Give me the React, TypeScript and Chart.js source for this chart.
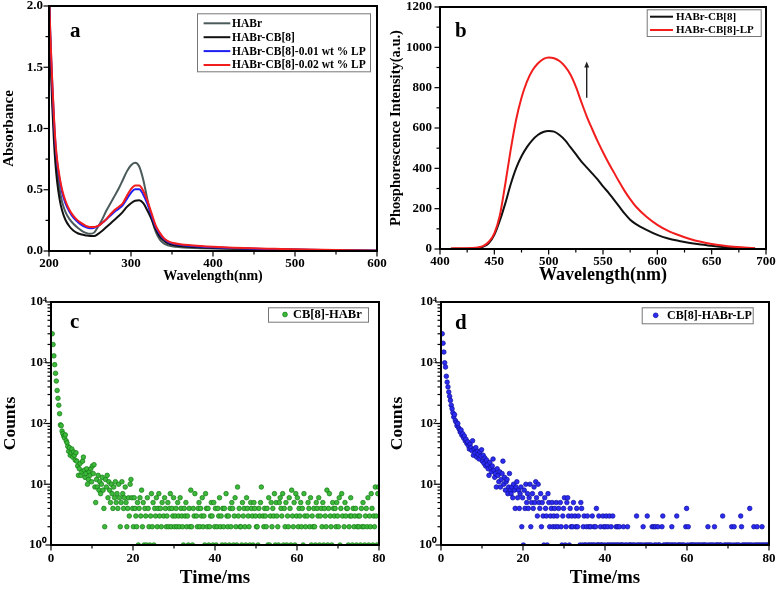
import React, { useEffect, useRef } from "react";
import { Chart, registerables } from "chart.js";

Chart.register(...registerables);

const SERIF = "'Liberation Serif', 'Times New Roman', Times, serif";

// ---------------- Panel a : absorbance ----------------
const absWavelengths = [200, 202, 204, 206, 208, 210, 213, 216, 220, 225, 230, 235, 240, 245, 250, 255, 260, 265, 270, 275, 280, 285, 290, 295, 300, 305, 310, 315, 320, 325, 330, 335, 340, 345, 350, 360, 370, 385, 400, 425, 450, 475, 500, 550, 600];
const absHABr = [2.1, 1.62, 1.28, 1.0, 0.79, 0.65, 0.5, 0.4, 0.32, 0.26, 0.22, 0.19, 0.165, 0.148, 0.14, 0.15, 0.2, 0.26, 0.33, 0.39, 0.45, 0.51, 0.58, 0.65, 0.7, 0.72, 0.69, 0.58, 0.42, 0.27, 0.16, 0.095, 0.062, 0.046, 0.038, 0.031, 0.027, 0.023, 0.02, 0.016, 0.013, 0.01, 0.008, 0.005, 0.002];
const absCB8 = [2.1, 1.55, 1.18, 0.9, 0.7, 0.56, 0.42, 0.33, 0.255, 0.2, 0.165, 0.145, 0.135, 0.127, 0.122, 0.122, 0.14, 0.165, 0.195, 0.225, 0.255, 0.285, 0.32, 0.36, 0.39, 0.41, 0.415, 0.39, 0.33, 0.26, 0.18, 0.12, 0.085, 0.062, 0.05, 0.04, 0.034, 0.029, 0.025, 0.02, 0.016, 0.013, 0.01, 0.005, 0.002];
const absLP001 = [2.1, 1.68, 1.36, 1.08, 0.86, 0.72, 0.58, 0.48, 0.39, 0.32, 0.27, 0.237, 0.212, 0.195, 0.186, 0.19, 0.205, 0.23, 0.26, 0.29, 0.32, 0.345, 0.375, 0.425, 0.475, 0.505, 0.505, 0.46, 0.385, 0.29, 0.2, 0.14, 0.1, 0.075, 0.062, 0.05, 0.043, 0.036, 0.03, 0.024, 0.019, 0.015, 0.012, 0.006, 0.002];
const absLP002 = [2.1, 1.7, 1.38, 1.1, 0.88, 0.74, 0.6, 0.5, 0.41, 0.335, 0.285, 0.25, 0.225, 0.205, 0.195, 0.195, 0.205, 0.23, 0.26, 0.3, 0.335, 0.36, 0.39, 0.45, 0.505, 0.535, 0.535, 0.49, 0.41, 0.31, 0.21, 0.15, 0.105, 0.08, 0.068, 0.056, 0.048, 0.04, 0.034, 0.027, 0.022, 0.018, 0.014, 0.008, 0.003];

// ---------------- Panel b : phosphorescence ----------------
const phosWavelengths = [410, 420, 430, 435, 440, 445, 450, 455, 460, 465, 470, 475, 480, 485, 490, 495, 500, 505, 510, 515, 520, 525, 530, 535, 540, 545, 550, 555, 560, 565, 570, 575, 580, 590, 600, 610, 620, 630, 640, 650, 660, 670, 680, 690];
const phosCB8 = [1, 1, 2, 4, 12, 30, 70, 140, 225, 320, 400, 460, 505, 540, 565, 580, 585, 582, 565, 540, 505, 470, 435, 405, 375, 345, 310, 280, 245, 210, 175, 145, 125, 95, 70, 52, 40, 30, 22, 16, 10, 6, 3, 1];
const phosCB8LP = [3, 4, 5, 8, 16, 36, 78, 165, 320, 490, 640, 750, 830, 885, 920, 942, 950, 946, 932, 905, 865, 805, 730, 658, 595, 535, 480, 428, 380, 332, 287, 247, 212, 160, 120, 90, 68, 50, 36, 25, 17, 11, 7, 4];
const arrowWavelength = 535;
const arrowFrom = 750;
const arrowTo = 930;

// ---------------- Panels c, d : decay (channel start / width in ms) ----------------
const decayStart = 0.3;
const decayChannel = 0.2;
const countsHABr = [
  3000, 2000, 1300, 930, 670, 500, 350, 260, 200, 145, 95, 92, 75, 68, 62, 58, 65, 52, 48, 42, 35, 40, 30, 33, 38,
  28, 34, 30, 25, 33, 24, 20, 14, 18, 22, 14, 16, 24, 28, 17, 13, 15, 18, 10, 12, 16, 14, 18, 11, 20,
  15, 21, 9, 5, 12, 9, 14, 8, 11, 7, 10, 13, 8, 4, 2, 12, 9, 14, 6, 11, 8, 5, 10, 7, 4,
  9, 6, 11, 5, 7, 4, 10, 6, 2, 5, 11, 7, 4, 6, 9, 5, 2, 4, 6, 3, 10, 12, 6, 4, 2,
  6, 4, 3, 2, 5, 1, 4, 6, 3, 8, 2, 5, 1, 4, 3, 1, 6, 4, 2, 1, 3, 7, 2, 5, 1,
  4, 3, 6, 2, 4, 7, 3, 4, 2, 5, 0, 3, 6, 4, 2, 3, 5, 2, 4, 7, 2, 4, 3, 6, 2,
  3, 4, 2, 5, 3, 2, 6, 4, 3, 2, 1, 4, 3, 5, 2, 3, 1, 4, 2, 8, 2, 1, 4, 3, 7,
  0, 3, 2, 4, 5, 2, 4, 3, 6, 2, 3, 1, 7, 4, 2, 4, 1, 2, 3, 5, 3, 1, 5, 2, 4,
  1, 2, 4, 3, 6, 2, 3, 1, 4, 2, 4, 1, 7, 3, 2, 3, 1, 4, 2, 5, 4, 1, 3, 6, 2,
  1, 9, 3, 4, 2, 2, 1, 5, 3, 4, 2, 1, 6, 4, 3, 2, 1, 5, 4, 3, 1, 5, 4, 3, 2,
  2, 1, 4, 3, 5, 9, 0, 3, 2, 4, 3, 2, 4, 1, 6, 1, 3, 5, 2, 4, 3, 7, 1, 5, 3,
  2, 1, 5, 6, 4, 3, 7, 1, 4, 2, 5, 1, 3, 2, 6, 4, 1, 8, 3, 2, 5, 1, 7, 3, 6,
  2, 4, 3, 5, 2, 4, 1, 7, 3, 2, 0, 3, 5, 4, 2, 6, 1, 3, 2, 4, 2, 1, 5, 4, 3,
  6, 1, 3, 4, 2, 5, 1, 4, 3, 2, 8, 1, 4, 7, 3, 2, 1, 5, 4, 3, 4, 2, 5, 3, 2,
  6, 1, 4, 7, 3, 0, 2, 5, 3, 4, 4, 1, 2, 3, 6, 3, 1, 4, 2, 3, 4, 1, 2, 3, 2,
  3, 1, 4, 2, 5, 2, 1, 3, 4, 2, 6, 1, 3, 2, 7, 4, 1, 3, 2, 9, 3, 1, 7, 9,
];
const countsHABrLP = [
  3000, 2100, 1500, 1000, 850, 600, 480, 400, 330, 280, 240, 200, 175, 150, 128, 140, 112, 105, 92, 100, 85, 80, 72, 78, 64,
  68, 58, 62, 52, 55, 47, 50, 43, 38, 46, 40, 36, 52, 30, 38, 33, 40, 28, 35, 31, 26, 34, 29, 37, 24,
  30, 22, 27, 20, 25, 21, 18, 14, 23, 19, 16, 20, 26, 17, 13, 15, 9, 18, 14, 11, 16, 9, 12, 15, 24,
  10, 13, 8, 11, 12, 7, 9, 15, 8, 7, 9, 6, 10, 8, 4, 9, 11, 6, 8, 4, 7, 9, 2, 6, 1,
  8, 4, 10, 5, 7, 4, 6, 10, 2, 5, 7, 4, 9, 5, 11, 6, 3, 10, 5, 4, 7, 2, 5, 3, 1,
  6, 4, 3, 1, 7, 5, 2, 3, 4, 5, 2, 3, 4, 2, 5, 3, 2, 4, 0, 5, 2, 1, 3, 4, 6,
  1, 2, 5, 6, 3, 1, 4, 2, 3, 2, 5, 0, 3, 2, 4, 2, 3, 0, 1, 5, 4, 1, 2, 3, 1,
  1, 2, 3, 1, 2, 1, 2, 1, 3, 1, 2, 1, 2, 4, 1, 1, 3, 1, 2, 1, 1, 3, 2, 1, 2,
  3, 1, 2, 1, 3, 1, 2, 1, 3, 1, 0, 1, 2, 1, 2, 1, 2, 1, 0, 1, 1, 2, 0, 1, 0,
  1, 2, 0, 1, 1, 0, 1, 0, 1, 0, 1, 0, 3, 1, 0, 1, 0, 1, 0, 1, 2, 0, 1, 0, 1,
  3, 1, 0, 1, 0, 1, 2, 0, 2, 1, 2, 1, 0, 2, 1, 1, 0, 0, 2, 3, 1, 0, 1, 0, 1,
  1, 0, 1, 0, 1, 2, 1, 0, 1, 0, 1, 3, 0, 1, 1, 0, 1, 0, 1, 0, 1, 0, 2, 4, 1,
  2, 0, 1, 0, 1, 1, 0, 1, 0, 1, 0, 1, 0, 1, 0, 1, 0, 1, 0, 1, 1, 0, 1, 0, 2,
  1, 0, 1, 0, 1, 0, 1, 2, 0, 1, 1, 0, 1, 0, 1, 1, 0, 3, 0, 1, 0, 1, 0, 1, 0,
  1, 0, 1, 2, 0, 1, 2, 0, 1, 0, 1, 0, 1, 0, 3, 2, 1, 0, 1, 0, 1, 0, 1, 0, 1,
  4, 1, 0, 1, 0, 2, 1, 0, 1, 2, 1, 0, 1, 0, 1, 2, 1, 0, 1, 0, 1, 0, 1, 1,
];
const logDecades = [1, 10, 100, 1000, 10000];
const SUP = ["\u2070", "\u00B9", "\u00B2", "\u00B3", "\u2074"];

// ---------------- plugins ----------------
const framePlugin = {
  id: "frame",
  afterDraw(chart: any, _a: any, o: any) {
    const { ctx, chartArea: a, scales } = chart;
    const xs = scales.x, ys = scales.y;
    ctx.save();
    ctx.strokeStyle = "#000";
    ctx.lineWidth = 1.2;
    const major = 5.5, minor = 3.5;
    const xTick = (v: number, len: number) => {
      const p = xs.getPixelForValue(v);
      ctx.beginPath(); ctx.moveTo(p, a.bottom); ctx.lineTo(p, a.bottom + len); ctx.stroke();
    };
    const yTick = (v: number, len: number) => {
      const p = ys.getPixelForValue(v);
      ctx.beginPath(); ctx.moveTo(a.left, p); ctx.lineTo(a.left - len, p); ctx.stroke();
    };
    const xMaj = xs.ticks.map((t: any) => t.value);
    for (let v = xs.min; v <= xs.max + 1e-9; v += o.xMinor) {
      xTick(v, xMaj.some((m: number) => Math.abs(m - v) < 1e-6) ? major : minor);
    }
    if (o.yLog) {
      for (let d = ys.min; d < ys.max; d *= 10) {
        yTick(d, major);
        for (let m = 2; m <= 9; m++) yTick(d * m, minor);
      }
      yTick(ys.max, major);
    } else {
      const yMaj = ys.ticks.map((t: any) => t.value);
      for (let v = ys.min; v <= ys.max + 1e-9; v += o.yMinor) {
        yTick(v, yMaj.some((m: number) => Math.abs(m - v) < 1e-6) ? major : minor);
      }
    }
    ctx.lineWidth = 2;
    ctx.strokeRect(a.left, a.top, a.right - a.left, a.bottom - a.top);
    ctx.restore();
  },
};

const boxLegendPlugin = {
  id: "boxLegend",
  afterDraw(chart: any, _a: any, o: any) {
    const { ctx, chartArea: a } = chart;
    const x0 = a.right - o.right - o.width;
    const y0 = a.top + o.top;
    ctx.save();
    ctx.fillStyle = "#fff";
    ctx.fillRect(x0, y0, o.width, o.height);
    ctx.strokeStyle = "#777";
    ctx.lineWidth = 1;
    ctx.strokeRect(x0 + 0.5, y0 + 0.5, o.width, o.height);
    ctx.font = `bold ${o.fontSize}px ${SERIF}`;
    ctx.textBaseline = "middle";
    ctx.textAlign = "left";
    chart.data.datasets.forEach((ds: any, i: number) => {
      const cy = y0 + o.firstRow + i * o.rowHeight;
      if (o.kind === "line") {
        ctx.strokeStyle = ds.borderColor;
        ctx.lineWidth = 2;
        ctx.beginPath(); ctx.moveTo(x0 + o.markX, cy); ctx.lineTo(x0 + o.markX + o.lineLen, cy); ctx.stroke();
      } else {
        ctx.beginPath(); ctx.arc(x0 + o.markX, cy, 2.4, 0, Math.PI * 2);
        ctx.fillStyle = ds.backgroundColor; ctx.fill();
        ctx.strokeStyle = ds.borderColor; ctx.lineWidth = 0.7; ctx.stroke();
      }
      ctx.fillStyle = "#000";
      ctx.fillText(ds.label, x0 + o.textX, cy + 0.5);
    });
    ctx.restore();
  },
};

const letterPlugin = {
  id: "panelLetter",
  afterDraw(chart: any, _a: any, o: any) {
    const { ctx, chartArea: a } = chart;
    ctx.save();
    ctx.font = `bold 21px ${SERIF}`;
    ctx.fillStyle = "#000";
    ctx.textAlign = "left";
    ctx.textBaseline = "alphabetic";
    ctx.fillText(o.text, a.left + o.dx, a.top + o.dy);
    ctx.restore();
  },
};

const arrowPlugin = {
  id: "upArrow",
  afterDatasetsDraw(chart: any, _a: any, o: any) {
    if (!o || !o.show) return;
    const { ctx, scales } = chart;
    const x = scales.x.getPixelForValue(arrowWavelength);
    const yb = scales.y.getPixelForValue(arrowFrom);
    const yt = scales.y.getPixelForValue(arrowTo);
    ctx.save();
    ctx.strokeStyle = "#222";
    ctx.fillStyle = "#222";
    ctx.lineWidth = 1.4;
    ctx.beginPath(); ctx.moveTo(x, yb); ctx.lineTo(x, yt + 4); ctx.stroke();
    ctx.beginPath(); ctx.moveTo(x, yt); ctx.lineTo(x - 2.5, yt + 6); ctx.lineTo(x + 2.5, yt + 6); ctx.closePath(); ctx.fill();
    ctx.restore();
  },
};

// ---------------- helpers ----------------
const tickFont = { family: SERIF, size: 13, weight: "bold" as const };

function xAxis(min: number, max: number, step: number, title: string, titleSize: number, titlePad: number, boxH: number, labelPad: number) {
  return {
    type: "linear",
    min, max,
    ticks: { stepSize: step, font: tickFont, color: "#000", padding: labelPad, maxRotation: 0, autoSkip: false, callback: (v: any) => String(v) },
    grid: { display: false, drawTicks: false },
    border: { display: false },
    title: { display: true, text: title, color: "#000", font: { family: SERIF, size: titleSize, weight: "bold" }, padding: { top: 0, bottom: titlePad } },
    afterFit: (s: any) => { s.height = boxH; s.paddingLeft = 0; s.paddingRight = 0; s.paddingTop = 0; s.paddingBottom = 0; },
  };
}

function yAxis(min: number, max: number, step: number, title: string, titleSize: number, boxW: number, labelPad: number, fmt: (v: number) => string) {
  return {
    type: "linear",
    min, max,
    ticks: { stepSize: step, font: tickFont, color: "#000", padding: labelPad, autoSkip: false, callback: (v: any) => fmt(Number(v)) },
    grid: { display: false, drawTicks: false },
    border: { display: false },
    title: { display: true, text: title, color: "#000", font: { family: SERIF, size: titleSize, weight: "bold" }, padding: { top: 0, bottom: 0 } },
    afterFit: (s: any) => { s.width = boxW; s.paddingLeft = 0; s.paddingRight = 0; s.paddingTop = 0; s.paddingBottom = 0; },
  };
}

function logYAxis(title: string, titleSize: number, boxW: number, labelPad: number) {
  return {
    type: "logarithmic",
    min: logDecades[0],
    max: logDecades[logDecades.length - 1],
    afterBuildTicks: (s: any) => { s.ticks = logDecades.map((v) => ({ value: v })); },
    ticks: { font: tickFont, color: "#000", padding: labelPad, autoSkip: false, callback: (v: any) => "10" + SUP[Math.round(Math.log10(Number(v)))] },
    grid: { display: false, drawTicks: false },
    border: { display: false },
    title: { display: true, text: title, color: "#000", font: { family: SERIF, size: titleSize, weight: "bold" }, padding: { top: 0, bottom: 0 } },
    afterFit: (s: any) => { s.width = boxW; s.paddingLeft = 0; s.paddingRight = 0; s.paddingTop = 0; s.paddingBottom = 0; },
  };
}

const lineSet = (label: string, xs: number[], ys: number[], color: string, order: number) => ({
  label,
  data: xs.map((x, i) => ({ x, y: ys[i] })),
  borderColor: color,
  backgroundColor: color,
  borderWidth: 2,
  pointRadius: 0,
  pointHoverRadius: 0,
  cubicInterpolationMode: "monotone",
  fill: false,
  order,
});

const dotSet = (label: string, counts: number[], fill: string, edge: string) => ({
  label,
  data: counts.map((c, i) => ({ x: decayStart + i * decayChannel, y: c > 0 ? c : null })),
  showLine: false,
  pointRadius: 2.3,
  pointHoverRadius: 2.3,
  pointBorderWidth: 0.7,
  backgroundColor: fill,
  borderColor: edge,
});

const basePlugins = (extra: any) => ({
  legend: { display: false },
  tooltip: { enabled: false },
  ...extra,
});

// ---------------- chart configs ----------------
function configA() {
  return {
    type: "line",
    data: {
      datasets: [
        lineSet("HABr", absWavelengths, absHABr, "#4b5a5a", 4),
        lineSet("HABr-CB[8]", absWavelengths, absCB8, "#111111", 3),
        lineSet("HABr-CB[8]-0.01 wt % LP", absWavelengths, absLP001, "#1f1ff5", 2),
        lineSet("HABr-CB[8]-0.02 wt % LP", absWavelengths, absLP002, "#f21d1d", 1),
      ],
    },
    options: {
      responsive: false, animation: false, devicePixelRatio: 1,
      layout: { padding: { top: 6, right: 13, left: 0, bottom: 0 } },
      scales: {
        x: xAxis(200, 600, 100, "Wavelength(nm)", 14, 5, 39, 4.5),
        y: yAxis(0, 2, 0.5, "Absorbance", 15, 49, 6, (v) => v.toFixed(1)),
      },
      plugins: basePlugins({
        frame: { xMinor: 50, yMinor: 0.25 },
        boxLegend: { kind: "line", right: 7, top: 7.3, width: 173, height: 58, firstRow: 10, rowHeight: 13.9, markX: 6.6, lineLen: 26.7, textX: 35, fontSize: 11.5 },
        panelLetter: { text: "a", dx: 21, dy: 30.7 },
        upArrow: { show: false },
      }),
    },
    plugins: [framePlugin, boxLegendPlugin, letterPlugin, arrowPlugin],
  };
}

function configB() {
  return {
    type: "line",
    data: {
      datasets: [
        lineSet("HABr-CB[8]", phosWavelengths, phosCB8, "#111111", 2),
        lineSet("HABr-CB[8]-LP", phosWavelengths, phosCB8LP, "#f21d1d", 1),
      ],
    },
    options: {
      responsive: false, animation: false, devicePixelRatio: 1,
      layout: { padding: { top: 7, right: 12, left: 0, bottom: 0 } },
      scales: {
        x: xAxis(400, 700, 50, "Wavelength(nm)", 18, 4, 41, 5),
        y: yAxis(0, 1200, 200, "Phosphorescence Intensity(a.u.)", 14.5, 52, 8, (v) => String(v)),
      },
      plugins: basePlugins({
        frame: { xMinor: 25, yMinor: 100 },
        boxLegend: { kind: "line", right: 5.3, top: 2.3, width: 114, height: 26.7, firstRow: 7.4, rowHeight: 13.3, markX: 3.3, lineLen: 23, textX: 29.3, fontSize: 11 },
        panelLetter: { text: "b", dx: 15, dy: 29.7 },
        upArrow: { show: true },
      }),
    },
    plugins: [framePlugin, boxLegendPlugin, letterPlugin, arrowPlugin],
  };
}

function configDecay(label: string, counts: number[], fill: string, edge: string, letter: string, yW: number, rightPad: number, legend: any, letterDx: number, letterDy: number) {
  return {
    type: "scatter",
    data: { datasets: [dotSet(label, counts, fill, edge)] },
    options: {
      responsive: false, animation: false, devicePixelRatio: 1,
      layout: { padding: { top: 12, right: rightPad, left: 0, bottom: 0 } },
      scales: {
        x: xAxis(0, 80, 20, "Time/ms", 19, 0, 44, 5.5),
        y: logYAxis("Counts", 17.5, yW, 4),
      },
      plugins: basePlugins({
        frame: { xMinor: 10, yLog: true },
        boxLegend: legend,
        panelLetter: { text: letter, dx: letterDx, dy: letterDy },
        upArrow: { show: false },
      }),
    },
    plugins: [framePlugin, boxLegendPlugin, letterPlugin, arrowPlugin],
  };
}

function configC() {
  return configDecay("CB[8]-HABr", countsHABr, "#3cb83a", "#127a12", "c", 51, 11,
    { kind: "dot", right: 11, top: 5.3, width: 100, height: 14.4, firstRow: 7.2, rowHeight: 14, markX: 17, textX: 25, fontSize: 12.5 }, 19, 26.3);
}

function configD() {
  return configDecay("CB[8]-HABr-LP", countsHABrLP, "#2b2bf2", "#10109a", "d", 54, 9,
    { kind: "dot", right: 16.3, top: 5.3, width: 111, height: 16, firstRow: 8, rowHeight: 14, markX: 14, textX: 25.3, fontSize: 12 }, 14, 27.3);
}

function Panel({ left, top, width, height, make }: { left: number; top: number; width: number; height: number; make: () => any }) {
  const ref = useRef<HTMLCanvasElement>(null);
  useEffect(() => {
    const chart = new Chart(ref.current as HTMLCanvasElement, make());
    return () => chart.destroy();
  }, []);
  return (
    <canvas
      ref={ref}
      width={width}
      height={height}
      style={{ position: "absolute", left, top, width, height, display: "block" }}
    />
  );
}

export default function App() {
  return (
    <div style={{ position: "fixed", left: 0, top: 0, width: 778, height: 589, background: "#fff", overflow: "hidden" }}>
      <Panel left={0} top={0} width={390} height={290} make={configA} />
      <Panel left={388} top={0} width={390} height={290} make={configB} />
      <Panel left={0} top={290} width={390} height={299} make={configC} />
      <Panel left={387} top={290} width={391} height={299} make={configD} />
    </div>
  );
}
